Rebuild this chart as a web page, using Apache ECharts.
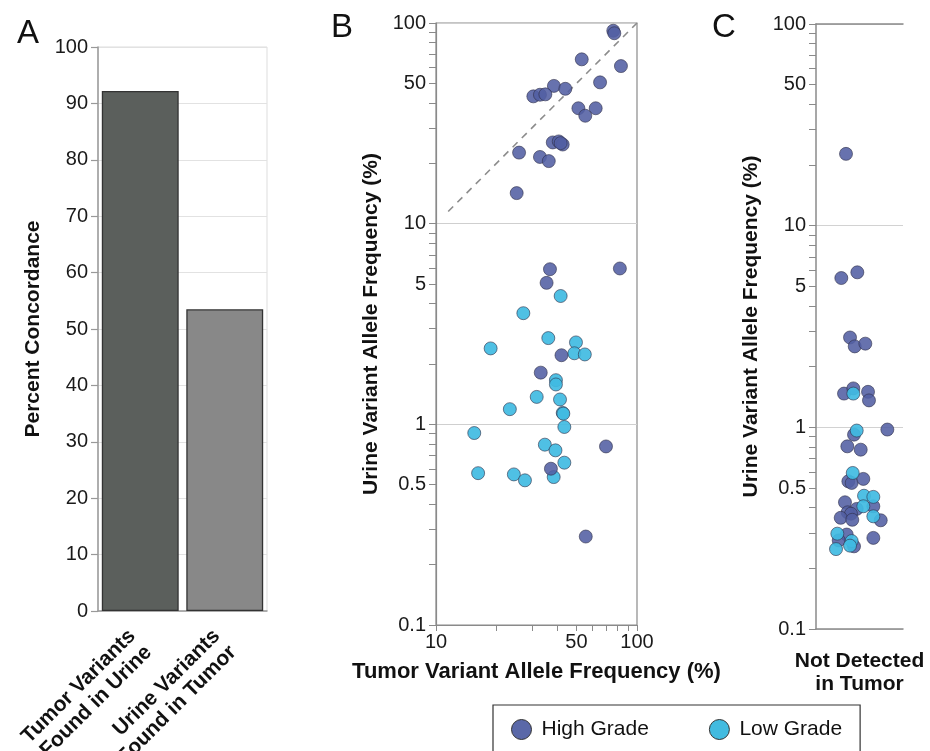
<!DOCTYPE html>
<html>
<head>
<meta charset="utf-8">
<script src="https://cdn.jsdelivr.net/npm/echarts@6/dist/echarts.min.js"></script>
<style>
html,body{margin:0;padding:0;background:#fff;}
#chart{width:930px;height:751px;}
</style>
</head>
<body>
<div id="chart"></div>
<script>
// ---- Panel A data ----
const concordanceCategories = ['Tumor Variants\nFound in Urine', 'Urine Variants\nFound in Tumor'];
const concordanceValues = [92.2, 53.5];

// ---- Panel B data: [tumor VAF %, urine VAF %] ----
const bHighGrade = [
  [76.2, 91.5], [77.1, 88.9], [53.1, 65.9], [83.2, 61.0], [65.5, 50.6],
  [38.6, 48.6], [44.0, 47.0], [30.5, 43.1], [32.9, 43.9], [35.0, 44.1],
  [51.1, 37.6], [62.3, 37.6], [55.3, 34.5], [38.1, 25.4], [40.8, 25.7],
  [42.7, 24.8], [41.7, 25.2], [25.9, 22.6], [32.9, 21.5], [36.4, 20.5],
  [25.2, 14.2],
  [36.9, 5.93], [82.2, 5.98], [35.5, 5.07], [42.1, 2.21], [33.2, 1.81],
  [70.1, 0.776], [37.3, 0.601], [55.6, 0.276]
];
const bLowGrade = [
  [41.7, 4.36], [27.2, 3.58], [36.2, 2.69], [49.7, 2.56], [18.7, 2.39],
  [48.8, 2.26], [55.0, 2.23], [39.5, 1.66], [39.5, 1.58], [31.7, 1.37],
  [41.4, 1.33], [23.3, 1.19], [42.7, 1.14], [43.0, 1.13], [43.5, 0.97],
  [15.5, 0.905], [34.8, 0.792], [39.3, 0.742], [43.5, 0.644], [16.2, 0.571],
  [24.4, 0.563], [27.7, 0.526], [38.5, 0.546]
];
const identityLine = [[11.5, 11.5], [100, 100]];

// ---- Panel C data: [horizontal jitter 0-1, urine VAF %] ----
const cHighGrade = [
  [0.345, 22.7], [0.291, 5.5], [0.475, 5.87], [0.391, 2.79], [0.445, 2.52],
  [0.567, 2.60], [0.322, 1.47], [0.429, 1.56], [0.598, 1.50], [0.609, 1.36],
  [0.82, 0.975], [0.437, 0.92], [0.36, 0.805], [0.514, 0.775], [0.372, 0.54],
  [0.41, 0.53], [0.544, 0.555], [0.333, 0.425], [0.468, 0.394], [0.659, 0.406],
  [0.364, 0.379], [0.402, 0.373], [0.284, 0.356], [0.417, 0.348], [0.744, 0.346],
  [0.353, 0.294], [0.659, 0.283], [0.261, 0.275], [0.437, 0.257]
];
const cLowGrade = [
  [0.429, 1.47], [0.468, 0.964], [0.422, 0.594], [0.552, 0.458], [0.659, 0.452],
  [0.544, 0.406], [0.659, 0.362], [0.245, 0.297], [0.41, 0.273], [0.391, 0.259],
  [0.23, 0.249]
];
const cCategoryLabel = 'Not Detected\nin Tumor';

// ---- Axis tick values ----
const logTickValues = [0.1, 0.2, 0.3, 0.4, 0.5, 0.6, 0.7, 0.8, 0.9,
  1, 2, 3, 4, 5, 6, 7, 8, 9, 10, 20, 30, 40, 50, 60, 70, 80, 90, 100];
const yLogLabelValues = [0.1, 0.5, 1, 5, 10, 50, 100];
const xLogLabelValues = [10, 50, 100];
const xLogTickValues = logTickValues.filter(v => v >= 10);

const FONT = 'Liberation Sans, Arial, Helvetica, sans-serif';
const HIGH_COLOR = 'rgba(82, 95, 163, 0.88)';
const LOW_COLOR = 'rgba(64, 187, 226, 0.92)';
const POINT_BORDER = 'rgba(45, 45, 70, 0.75)';
const POINT_SIZE = 13;
const tickLabel = { fontFamily: FONT, fontSize: 20, color: '#1a1a1a' };
const axisName = { fontFamily: FONT, fontSize: 21, fontWeight: 'bold', color: '#111' };
const fmt = v => String(v);

const chart = echarts.init(document.getElementById('chart'), null, { renderer: 'canvas' });

const option = {
  backgroundColor: '#fff',
  animation: false,
  title: [
    { text: 'A', left: 12, top: 12, textStyle: { fontFamily: FONT, fontSize: 33, fontWeight: 'normal', color: '#111' } },
    { text: 'B', left: 326, top: 6, textStyle: { fontFamily: FONT, fontSize: 33, fontWeight: 'normal', color: '#111' } },
    { text: 'C', left: 707, top: 6, textStyle: { fontFamily: FONT, fontSize: 33, fontWeight: 'normal', color: '#111' } }
  ],
  legend: {
    left: 493, top: 705,
    padding: [14, 18, 24, 18],
    borderColor: '#333', borderWidth: 1.2,
    itemWidth: 20, itemHeight: 20, itemGap: 60,
    icon: 'circle',
    textStyle: { fontFamily: FONT, fontSize: 21, color: '#111', padding: [0, 0, 0, 5] },
    data: [
      { name: 'High Grade', itemStyle: { color: '#5a68a8', borderColor: '#333', borderWidth: 1 } },
      { name: 'Low Grade', itemStyle: { color: '#42bbe0', borderColor: '#333', borderWidth: 1 } }
    ]
  },
  grid: [
    { left: 98, top: 47, width: 169, height: 564, outerBoundsMode: 'none', containLabel: false, show: true, borderColor: '#ddd', borderWidth: 1, backgroundColor: 'transparent' },
    { left: 436, top: 23, width: 201, height: 602, outerBoundsMode: 'none', containLabel: false, show: true, borderColor: '#8a8a8a', borderWidth: 1.2, backgroundColor: 'transparent' },
    { left: 816, top: 24, width: 87, height: 605, outerBoundsMode: 'none', containLabel: false }
  ],
  xAxis: [
    { // A
      gridIndex: 0, type: 'category', data: concordanceCategories,
      axisLine: { lineStyle: { color: '#999', width: 1.5 } },
      axisTick: { alignWithLabel: true, length: 7, lineStyle: { color: '#999', width: 1.2 } },
      axisLabel: Object.assign({}, axisName, { rotate: 45, margin: 30, lineHeight: 23, interval: 0 }),
      splitLine: { show: false }
    },
    { // B ticks & labels
      gridIndex: 1, type: 'log', logBase: 10, min: 10, max: 100,
      axisLine: { show: true, lineStyle: { color: '#8a8a8a', width: 1.2 } },
      axisTick: { show: true, length: 6, customValues: xLogTickValues, lineStyle: { color: '#8a8a8a' } },
      axisLabel: Object.assign({}, tickLabel, { customValues: xLogLabelValues, formatter: fmt, margin: 7 }),
      splitLine: { show: false },
      name: 'Tumor Variant Allele Frequency (%)', nameLocation: 'middle', nameGap: 36,
      nameTextStyle: Object.assign({}, axisName, { fontSize: 22 })
    },
    { // C bottom
      gridIndex: 2, type: 'value', min: 0, max: 1,
      axisLine: { show: true, lineStyle: { color: '#8a8a8a', width: 1.5 } },
      axisTick: { show: false }, axisLabel: { show: false }, splitLine: { show: false },
      name: cCategoryLabel, nameLocation: 'middle', nameGap: 21,
      nameTextStyle: Object.assign({}, axisName, { lineHeight: 23, verticalAlign: 'top' })
    },
    { // C top line at 100
      gridIndex: 2, type: 'value', min: 0, max: 1, position: 'top',
      axisLine: { show: true, lineStyle: { color: '#8a8a8a', width: 1.5 } },
      axisTick: { show: false }, axisLabel: { show: false }, splitLine: { show: false }
    }
  ],
  yAxis: [
    { // A
      gridIndex: 0, type: 'value', min: 0, max: 100, interval: 10,
      axisLine: { show: true, lineStyle: { color: '#999', width: 1.5 } },
      axisTick: { show: true, length: 7, lineStyle: { color: '#999', width: 1.2 } },
      axisLabel: Object.assign({}, tickLabel, { margin: 10 }),
      splitLine: { show: true, lineStyle: { color: '#e2e2e2', width: 1.2 } },
      name: 'Percent Concordance', nameLocation: 'middle', nameGap: 54, nameRotate: 90,
      nameTextStyle: axisName
    },
    { // B ticks & labels
      gridIndex: 1, type: 'log', logBase: 10, min: 0.1, max: 100,
      axisLine: { show: true, lineStyle: { color: '#8a8a8a', width: 1.2 } },
      axisTick: { show: true, length: 7, customValues: logTickValues, lineStyle: { color: '#8a8a8a' } },
      axisLabel: Object.assign({}, tickLabel, { customValues: yLogLabelValues, formatter: fmt, margin: 10 }),
      splitLine: { show: false },
      name: 'Urine Variant Allele Frequency (%)', nameLocation: 'middle', nameGap: 54, nameRotate: 90,
      nameTextStyle: axisName
    },
    { // B grid lines
      gridIndex: 1, type: 'log', logBase: 10, min: 0.1, max: 100,
      axisLine: { show: false }, axisTick: { show: false }, axisLabel: { show: false },
      splitLine: { show: true, lineStyle: { color: '#cfcfcf', width: 1.2 } }
    },
    { // C ticks & labels
      gridIndex: 2, type: 'log', logBase: 10, min: 0.1, max: 100,
      axisLine: { show: true, lineStyle: { color: '#8a8a8a', width: 1.5 } },
      axisTick: { show: true, length: 7, customValues: logTickValues, lineStyle: { color: '#8a8a8a' } },
      axisLabel: Object.assign({}, tickLabel, { customValues: yLogLabelValues, formatter: fmt, margin: 10 }),
      splitLine: { show: false },
      name: 'Urine Variant Allele Frequency (%)', nameLocation: 'middle', nameGap: 54, nameRotate: 90,
      nameTextStyle: axisName
    },
    { // C grid lines
      gridIndex: 2, type: 'log', logBase: 10, min: 0.1, max: 100,
      axisLine: { show: false }, axisTick: { show: false }, axisLabel: { show: false },
      splitLine: { show: true, lineStyle: { color: '#d2d2d2', width: 1.2 } }
    }
  ],
  series: [
    {
      type: 'bar', xAxisIndex: 0, yAxisIndex: 0, barCategoryGap: '9%',
      data: concordanceValues.map((v, i) => ({
        value: v,
        itemStyle: { color: i === 0 ? '#5b5f5c' : '#888888', borderColor: '#333', borderWidth: 1.3 }
      })),
      z: 3
    },
    {
      type: 'line', xAxisIndex: 1, yAxisIndex: 1, data: identityLine,
      symbol: 'none', silent: true,
      lineStyle: { color: '#8c8c8c', width: 1.6, type: [7, 6] }, z: 2
    },
    {
      name: 'Low Grade', type: 'scatter', xAxisIndex: 1, yAxisIndex: 1, data: bLowGrade,
      symbolSize: POINT_SIZE, itemStyle: { color: LOW_COLOR, borderColor: POINT_BORDER, borderWidth: 0.8, opacity: 1 }, z: 4
    },
    {
      name: 'High Grade', type: 'scatter', xAxisIndex: 1, yAxisIndex: 1, data: bHighGrade,
      symbolSize: POINT_SIZE, itemStyle: { color: HIGH_COLOR, borderColor: POINT_BORDER, borderWidth: 0.8, opacity: 1 }, z: 5
    },
    {
      name: 'High Grade', type: 'scatter', xAxisIndex: 2, yAxisIndex: 3, data: cHighGrade,
      symbolSize: POINT_SIZE, itemStyle: { color: HIGH_COLOR, borderColor: POINT_BORDER, borderWidth: 0.8, opacity: 1 }, z: 4
    },
    {
      name: 'Low Grade', type: 'scatter', xAxisIndex: 2, yAxisIndex: 3, data: cLowGrade,
      symbolSize: POINT_SIZE, itemStyle: { color: LOW_COLOR, borderColor: POINT_BORDER, borderWidth: 0.8, opacity: 1 }, z: 5
    }
  ]
};
chart.setOption(option);
</script>
</body>
</html>
